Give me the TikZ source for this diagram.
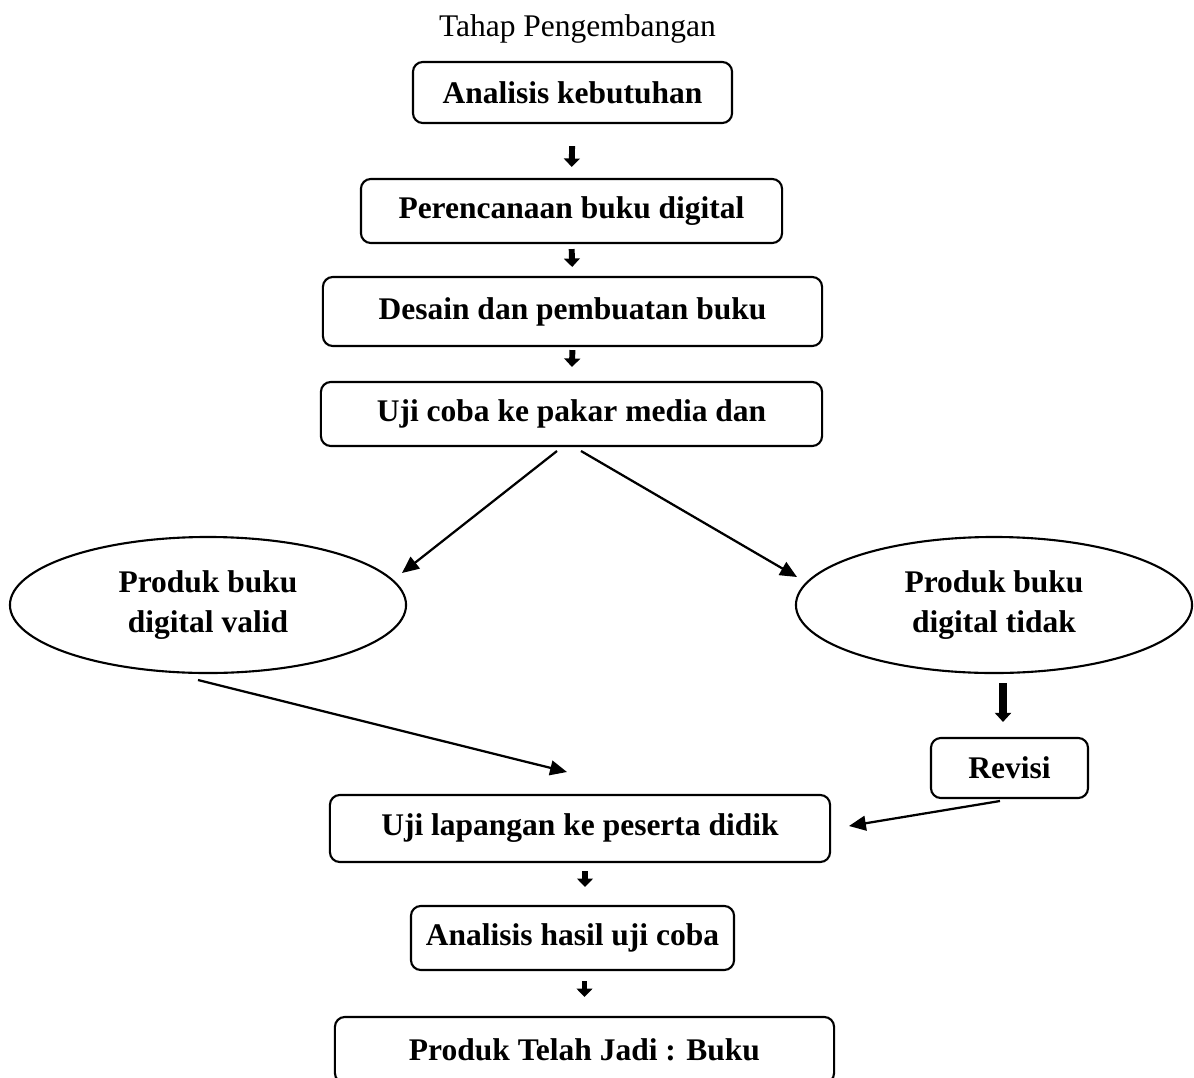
\documentclass[tikz,border=0pt]{standalone}
\usepackage{fontspec}
\setmainfont{Liberation Serif}
\usetikzlibrary{arrows.meta,shapes.geometric}

\begin{document}
\begin{tikzpicture}[x=0.025cm, y=-0.025cm,
    kotak/.style={draw, rounded corners=7pt, line width=1.5pt, inner sep=0pt,
      font=\fontsize{22.4}{27}\selectfont\bfseries},
    elips/.style={draw, ellipse, line width=1.5pt, inner sep=0pt, align=center,
      minimum width=9.9cm, minimum height=3.4cm,
      font=\fontsize{22.4}{28.5}\selectfont\bfseries},
    panahkecil/.style={line width=4.2pt, -{Triangle[width=11.3pt,length=6pt]}},
    panah/.style={line width=1.6pt, -{Triangle[width=10.5pt,length=12pt]}},
    panahtebal/.style={line width=5.5pt, -{Triangle[width=11.5pt,length=6.5pt]}}]
    \useasboundingbox (0,0) rectangle (1194,1077);
    % Title
    \node[anchor=base, font=\fontsize{22.4}{27}\selectfont] (judul) at (577.5,37)
    {Tahap Pengembangan};
    % Boxes
    \node[kotak, minimum width=7.975cm, minimum height=1.525cm] (analisis)
    at (572.5,92.5) {Analisis kebutuhan};
    \node[kotak, minimum width=10.525cm, minimum height=1.6cm] (rencana)
    at (571.5,211) {Perencanaan buku digital};
    \node[kotak, minimum width=12.475cm, minimum height=1.725cm] (desain)
    at (572.5,311.5) {Desain dan pembuatan buku};
    \node[kotak, minimum width=12.525cm, minimum height=1.6cm] (pakar)
    at (571.5,414) {Uji coba ke pakar media dan};
    \node[kotak, minimum width=3.925cm, minimum height=1.5cm] (revisi)
    at (1009.5,768) {Revisi};
    \node[kotak, minimum width=12.5cm, minimum height=1.675cm] (lapangan)
    at (580,828.5) {Uji lapangan ke peserta didik};
    \node[kotak, minimum width=8.075cm, minimum height=1.6cm] (hasil)
    at (572.5,938) {Analisis hasil uji coba};
    \node[kotak, minimum width=12.475cm, minimum height=1.65cm] (jadi)
    at (584.5,1050) {Produk Telah Jadi : Buku};
    % Ellipses
    \node[elips] (valid) at (208,605) {Produk buku\\digital valid};
    \node[elips] (tidak) at (994,605) {Produk buku\\digital tidak};
    % Free ends of the slanted arrows
    \coordinate (pakarkiri) at (557,451);
    \coordinate (pakarkanan) at (581,451);
    \coordinate (validujung) at (402,573);
    \coordinate (tidakujung) at (797,577);
    \coordinate (validbawah) at (198,680);
    \coordinate (lapanganujung) at (567,772);
    \coordinate (revisibawah) at (1000,801);
    \coordinate (lapangankanan) at (849,826);
    % Arrows
    \draw[panahkecil, shorten <=0.55cm, shorten >=0.275cm]
    (analisis.south) -- (rencana.north);
    \draw[panahkecil, shorten <=0.125cm, shorten >=0.225cm]
    (rencana.south) -- (desain.north);
    \draw[panahkecil, shorten <=0.075cm, shorten >=0.35cm]
    (desain.south) -- (pakar.north);
    \draw[panah] (pakarkiri) -- (validujung);
    \draw[panah] (pakarkanan) -- (tidakujung);
    \draw[panah] (validbawah) -- (lapanganujung);
    \draw[panahtebal, shorten <=0.225cm, shorten >=0.375cm]
    ([xshift=0.225cm]tidak.south) -- ([xshift=0.225cm]tidak.south |- revisi.north);
    \draw[panah] (revisibawah) -- (lapangankanan);
    \draw[panahkecil, shorten <=0.2cm, shorten >=0.45cm]
    ([xshift=0.125cm]lapangan.south) -- ([xshift=0.125cm]lapangan.south |- hasil.north);
    \draw[panahkecil, shorten <=0.25cm, shorten >=0.475cm]
    ([xshift=0.3cm]hasil.south) -- ([xshift=0.3cm]hasil.south |- jadi.north);
\end{tikzpicture}
\end{document}
